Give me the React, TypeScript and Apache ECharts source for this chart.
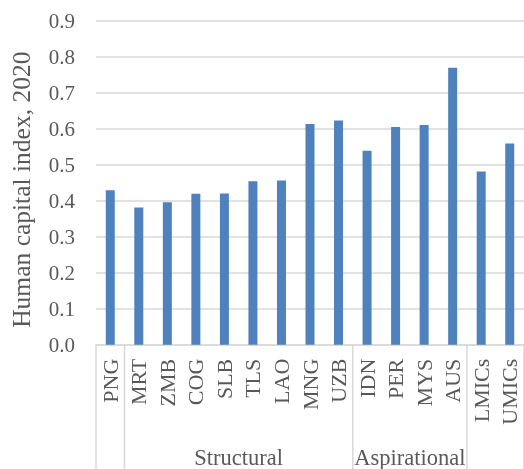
import React, { useEffect, useRef } from "react";
import * as echarts from "echarts";

const categories = ["PNG", "MRT", "ZMB", "COG", "SLB", "TLS", "LAO", "MNG", "UZB", "IDN", "PER", "MYS", "AUS", "LMICs", "UMICs"];
const values = [0.429, 0.381, 0.396, 0.419, 0.42, 0.454, 0.456, 0.613, 0.623, 0.539, 0.605, 0.61, 0.769, 0.481, 0.559];
// groups: [label, first category index, last category index]
const groupLabels = ["", "Structural", "Aspirational", ""];
const groupStarts = [0, 1, 9, 13];
const groupEnds = [0, 8, 12, 14];
const yTicks = [0, 0.1, 0.2, 0.3, 0.4, 0.5, 0.6, 0.7, 0.8, 0.9];

const FONT = "'Liberation Serif', 'Times New Roman', serif";
const GRAY = "#595959";
const LINE = "#d9d9d9";

export default function App() {
  const ref = useRef<HTMLDivElement>(null);
  useEffect(() => {
    if (!ref.current) return;
    const chart = echarts.init(ref.current, null, { renderer: "svg" });
    chart.setOption({
      animation: false,
      grid: { left: 91, top: 20.7, width: 434, height: 324, containLabel: false },
      xAxis: {
        type: "category",
        data: categories,
        axisTick: { show: false },
        axisLine: { show: true, lineStyle: { color: LINE, width: 1.5 } },
        axisLabel: { rotate: 90, margin: 14, color: GRAY, fontFamily: FONT, fontSize: 22, interval: 0 },
      },
      yAxis: {
        type: "value",
        min: yTicks[0],
        max: yTicks[yTicks.length - 1],
        interval: 0.1,
        name: "Human capital index, 2020",
        nameLocation: "middle",
        nameRotate: 90,
        nameGap: 62,
        nameTextStyle: { color: GRAY, fontFamily: FONT, fontSize: 25.5, padding: [0, 14, 0, 0] },
        axisLine: { show: false },
        axisTick: { show: false },
        axisLabel: { color: GRAY, fontFamily: FONT, fontSize: 21, margin: 21, formatter: (v: number) => v.toFixed(1) },
        splitLine: { lineStyle: { color: LINE, width: 1.5 } },
      },
      series: [
        {
          type: "bar",
          data: values,
          barWidth: 9,
          itemStyle: { color: "#4f81bd" },
        },
      ],
    });

    // separators and group labels computed through the category scale
    const yBase = chart.convertToPixel({ yAxisIndex: 0 }, 0) as number;
    const c0 = chart.convertToPixel({ xAxisIndex: 0 }, categories[0]) as number;
    const c1 = chart.convertToPixel({ xAxisIndex: 0 }, categories[1]) as number;
    const step = c1 - c0;
    const elements: any[] = [];
    const H = 469;
    groupStarts.forEach((s, gi) => {
      const left = (chart.convertToPixel({ xAxisIndex: 0 }, categories[s]) as number) - step / 2;
      const right = (chart.convertToPixel({ xAxisIndex: 0 }, categories[groupEnds[gi]]) as number) + step / 2;
      elements.push({
        type: "line",
        shape: { x1: left, y1: yBase, x2: left, y2: H },
        style: { stroke: LINE, lineWidth: 1.5 },
        silent: true,
      });
      if (gi === groupStarts.length - 1) {
        elements.push({
          type: "line",
          shape: { x1: right, y1: yBase, x2: right, y2: H },
          style: { stroke: LINE, lineWidth: 1.5 },
          silent: true,
        });
      }
      if (groupLabels[gi]) {
        elements.push({
          type: "text",
          x: (left + right) / 2,
          y: 457,
          style: {
            text: groupLabels[gi],
            fill: GRAY,
            font: `22.5px ${FONT}`,
            align: "center",
            verticalAlign: "middle",
          },
          silent: true,
        });
      }
    });
    chart.setOption({ graphic: elements });
    return () => chart.dispose();
  }, []);
  return <div ref={ref} style={{ position: "fixed", left: 0, top: 0, width: 524, height: 469 }} />;
}
